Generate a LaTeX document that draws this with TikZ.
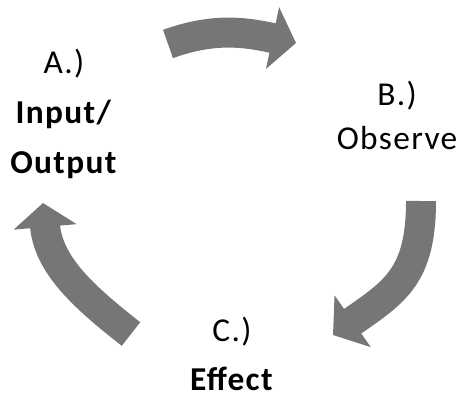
\documentclass[tikz,border=0pt]{standalone}
\usepackage{fontspec}
\setmainfont{Carlito}[LetterSpace=4]
\usetikzlibrary{arrows.meta}

\definecolor{arrowgray}{RGB}{118,118,118}

\begin{document}
\begin{tikzpicture}[x=0.02cm, y=0.02cm,
    % Style for the stage labels
    stage/.style={align=center, inner sep=0pt, font=\fontsize{19}{28.5}\selectfont},
    % Style for the thick grey cycle arrows
    bigarrow/.style={line width=0.6cm, draw=arrowgray, -{Triangle[length=0.48cm, width=1.24cm]}}
]
\useasboundingbox (0,0) rectangle (469,400);

% Stage labels
\node[stage] (inout)   at (64,286)  {A.)\\\textbf{Input/}\\\textbf{Output}};
\node[stage] (observe) at (397,285) {B.)\\[-3.5pt]Observe};
\node[stage] (effect)  at (232,46)  {C.)\\[-1pt]\textbf{Effect}};

% Ends of the arrows
\coordinate (ab start) at (168,356);
\coordinate (ab end)   at (296,357);
\coordinate (bc start) at (421,199);
\coordinate (bc end)   at (333,65);
\coordinate (ca start) at (131,66);
\coordinate (ca end)   at (43,197);

% Arrows of the cycle
\draw[bigarrow] (ab start) to[out=20, in=168] (ab end);
\draw[bigarrow] (bc start) to[out=-90, in=35, looseness=1.2] (bc end);
\draw[bigarrow] (ca start) to[out=142, in=-85] (ca end);

\end{tikzpicture}
\end{document}
